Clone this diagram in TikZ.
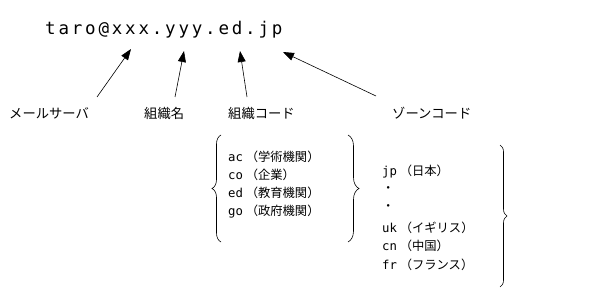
\documentclass[tikz,border=0pt]{standalone}
\usepackage{fontspec}
\usetikzlibrary{decorations.pathreplacing,arrows.meta}
\newfontfamily\jpfont{Noto Sans CJK JP}
\newfontfamily\addrfont[LetterSpace=16]{DejaVu Sans Mono}
\newfontfamily\latfont{DejaVu Sans Mono}
\begin{document}
\begin{tikzpicture}[x=1pt,y=1pt,
  lbl/.style={font=\jpfont\fontsize{13.3}{15}\selectfont, inner sep=0pt, anchor=west},
  item/.style={font=\jpfont\fontsize{12.3}{14}\selectfont, inner sep=0pt, anchor=west},
  arr/.style={-{Triangle[length=11pt,width=8pt]}, line width=0.6pt},
  brc/.style={decorate, decoration={brace, amplitude=#1}, line width=0.6pt}]
\useasboundingbox (0,0) rectangle (593,-294);
\node[inner sep=0pt, anchor=west, font=\addrfont\fontsize{17.5}{20}\selectfont] (addr) at (45,-30) {taro@xxx.yyy.ed.jp};
% arrow tips
\coordinate (t1) at (131,-49);
\coordinate (t2) at (184,-51);
\coordinate (t3) at (240,-51);
\coordinate (t4) at (283,-52);
\coordinate (s1) at (97,-97);
\coordinate (s2) at (175,-97);
\coordinate (s3) at (247,-97);
\coordinate (s4) at (376,-96);
\draw[arr] (s1) -- (t1);
\draw[arr] (s2) -- (t2);
\draw[arr] (s3) -- (t3);
\draw[arr] (s4) -- (t4);
\node[lbl] (l1) at (9,-113) {メールサーバ};
\node[lbl] (l2) at (144,-113) {組織名};
\node[lbl] (l3) at (228,-113) {組織コード};
\node[lbl] (l4) at (392,-113) {ゾーンコード};
% group 1
\node[item] (a1) at (228,-157) {{\latfont ac} （学術機関）};
\node[item] (a2) at (228,-175) {{\latfont co} （企業）};
\node[item] (a3) at (228,-193) {{\latfont ed} （教育機関）};
\node[item] (a4) at (228,-212) {{\latfont go} （政府機関）};
\coordinate (b1a) at (221,-242);
\coordinate (b1b) at (221,-135);
\draw[brc=9pt] (b1a) -- (b1b);
\coordinate (b2a) at (348,-135);
\coordinate (b2b) at (348,-242);
\draw[brc=11pt] (b2a) -- (b2b);
% group 2
\node[item] (z1) at (382,-172) {{\latfont jp} （日本）};
\node[item] (z2) at (382,-190) {・};
\node[item] (z3) at (382,-208) {・};
\node[item] (z4) at (382,-228) {{\latfont uk} （イギリス）};
\node[item] (z5) at (382,-246) {{\latfont cn} （中国）};
\node[item] (z6) at (382,-265) {{\latfont fr} （フランス）};
\coordinate (b3a) at (500,-145);
\coordinate (b3b) at (500,-287);
\draw[brc=7pt] (b3a) -- (b3b);
\end{tikzpicture}
\end{document}
